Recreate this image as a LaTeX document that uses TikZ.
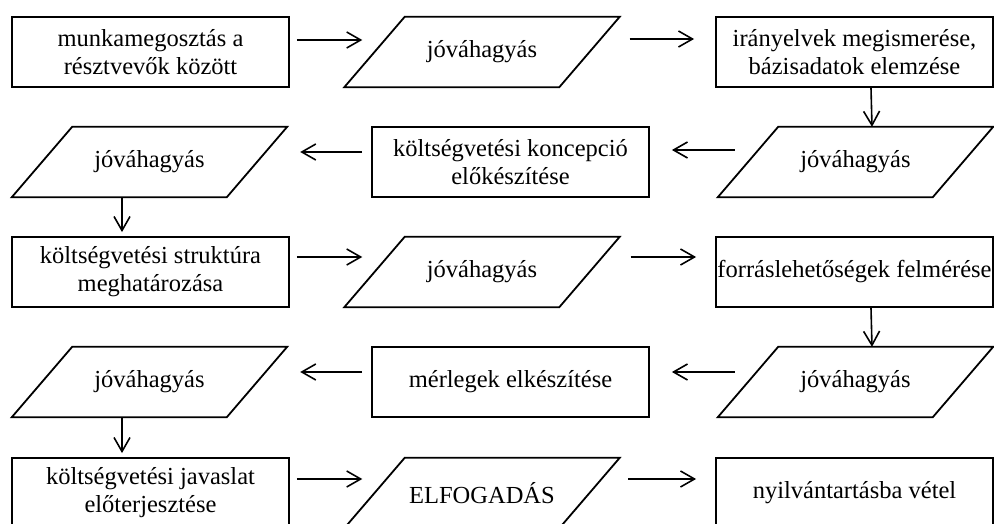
\documentclass[tikz,border=0pt]{standalone}
\usepackage{fontspec}
\setmainfont{Liberation Serif}
\usetikzlibrary{arrows.meta}
\tikzset{
  box/.style={draw, line width=1.8pt, minimum width=277pt, minimum height=70pt, inner sep=0pt, align=center, font=\fontsize{24.5}{28}\selectfont},
  para/.style={minimum width=275pt, minimum height=70pt, inner sep=0pt, align=center, font=\fontsize{24.5}{28}\selectfont},
  arr/.style={line width=1.6pt, -{Straight Barb[length=14pt,width=16pt,line width=1.6pt]}},
  pline/.style={line width=1.8pt, line join=miter}
}
\newcommand{\paraframe}[1]{\draw[pline] (#1.south west) -- ++(215,0) -- (#1.north east) -- ++(-215,0) -- cycle;}
\begin{document}
\begin{tikzpicture}[x=1pt,y=-1pt]
\useasboundingbox (0,0) rectangle (994,524);
\clip (0,0) rectangle (994,524);
% row 1
\node[box] (b1) at (150.5,52) {munkamegosztás a\\résztvevők között};
\node[para] (p1) at (482,52) {jóváhagyás};
\node[box] (b2) at (854.5,52) {irányelvek megismerése,\\bázisadatok elemzése};
% row 2
\node[para] (p2) at (855.5,162) {jóváhagyás};
\node[box] (b3) at (510.5,162) {költségvetési koncepció\\előkészítése};
\node[para] (p3) at (149.5,162) {jóváhagyás};
% row 3
\node[box] (b4) at (150.5,272) {költségvetési struktúra\\meghatározása};
\node[para] (p4) at (482,272) {jóváhagyás};
\node[box] (b5) at (854.5,272) {forráslehetőségek felmérése};
% row 4
\node[para] (p5) at (855.5,382) {jóváhagyás};
\node[box] (b6) at (510.5,382) {mérlegek elkészítése};
\node[para] (p6) at (149.5,382) {jóváhagyás};
% row 5
\node[box] (b7) at (150.5,493) {költségvetési javaslat\\előterjesztése};
\node[para] (p7) at (482,493) {ELFOGADÁS};
\node[box] (b8) at (854.5,493) {nyilvántartásba vétel};
% parallelogram frames
\paraframe{p1}
\paraframe{p2}
\paraframe{p3}
\paraframe{p4}
\paraframe{p5}
\paraframe{p6}
\paraframe{p7}
% connectors
\draw[arr] ([xshift=7pt,yshift=12pt]b1.east) -- ([xshift=18pt,yshift=12pt]p1.west);
\draw[arr] ([xshift=10pt,yshift=13pt]p1.east) -- ([xshift=-21pt,yshift=13pt]b2.west);
\draw[arr] ([xshift=16.5pt]b2.south) -- ([xshift=16.5pt]p2.north);
\draw[arr] ([xshift=17pt,yshift=12pt]p2.west) -- ([xshift=22pt,yshift=12pt]b3.east);
\draw[arr] ([xshift=-9pt,yshift=10pt]b3.west) -- ([xshift=13pt,yshift=10pt]p3.east);
\draw[arr] ([xshift=-27.5pt]p3.south) -- ([xshift=-28.5pt,yshift=4pt]b4.north);
\draw[arr] ([xshift=7pt,yshift=15pt]b4.east) -- ([xshift=18pt,yshift=15pt]p4.west);
\draw[arr] ([xshift=11pt,yshift=15pt]p4.east) -- ([xshift=-19pt,yshift=15pt]b5.west);
\draw[arr] ([xshift=16.5pt]b5.south) -- ([xshift=16.5pt]p5.north);
\draw[arr] ([xshift=17pt,yshift=10pt]p5.west) -- ([xshift=22pt,yshift=10pt]b6.east);
\draw[arr] ([xshift=-9pt,yshift=10pt]b6.west) -- ([xshift=13pt,yshift=10pt]p6.east);
\draw[arr] ([xshift=-27.5pt]p6.south) -- ([xshift=-28.5pt,yshift=4pt]b7.north);
\draw[arr] ([xshift=7pt,yshift=14pt]b7.east) -- ([xshift=18pt,yshift=14pt]p7.west);
\draw[arr] ([xshift=8.5pt,yshift=14pt]p7.east) -- ([xshift=-19pt,yshift=14pt]b8.west);
\end{tikzpicture}
\end{document}
